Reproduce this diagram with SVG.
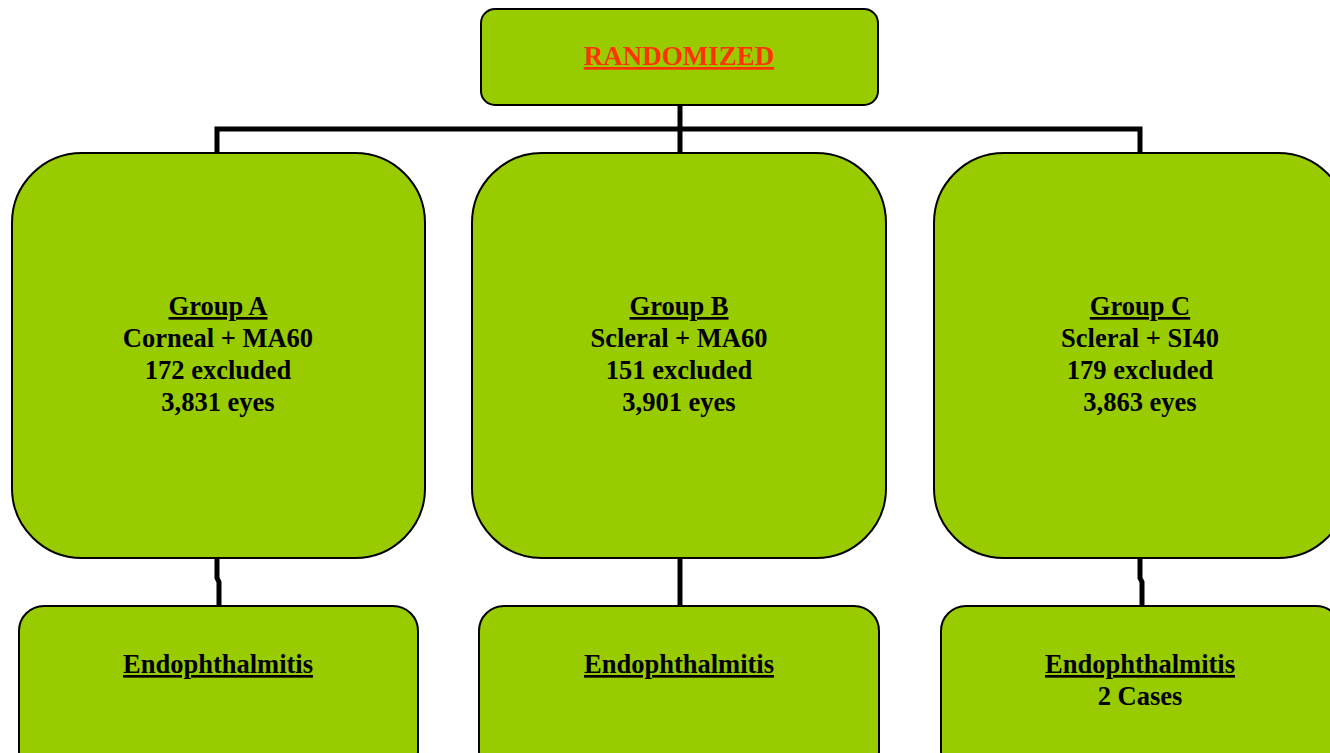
<svg xmlns="http://www.w3.org/2000/svg" width="1330" height="753" viewBox="0 0 1330 753">
<style>
.box{fill:#99CC00;stroke:#000;stroke-width:2}
.t{font-family:"Liberation Serif","Times New Roman",serif;font-weight:bold;font-size:26.5px;text-anchor:middle;fill:#000}
.u{text-decoration:underline}
.red{fill:#FF3300;font-size:27px}
.c{fill:none;stroke:#000;stroke-width:5}
</style>
<rect width="1330" height="753" fill="#fff"/>
<g id="connectors">
<path class="c" d="M680 105V129M217 153V129H1140V153M680 129V153"/>
<path class="c" d="M217 558V578L219 582V606"/>
<path class="c" d="M680 558V606"/>
<path class="c" d="M1140 558V578L1142 582V606"/>
</g>
<g id="randomized">
<rect class="box" x="481" y="9" width="397" height="96" rx="14"/>
<text class="t red u" x="679" y="65">RANDOMIZED</text>
</g>
<g id="groupA">
<rect class="box" x="12" y="153" width="413" height="405" rx="70"/>
<text class="t" x="218" y="315"><tspan class="u">Group A</tspan><tspan x="218" dy="32">Corneal + MA60</tspan><tspan x="218" dy="32">172 excluded</tspan><tspan x="218" dy="32">3,831 eyes</tspan></text>
</g>
<g id="groupB">
<rect class="box" x="472" y="153" width="414" height="405" rx="70"/>
<text class="t" x="679" y="315"><tspan class="u">Group B</tspan><tspan x="679" dy="32">Scleral + MA60</tspan><tspan x="679" dy="32">151 excluded</tspan><tspan x="679" dy="32">3,901 eyes</tspan></text>
</g>
<g id="groupC">
<rect class="box" x="934" y="153" width="414" height="405" rx="70"/>
<text class="t" x="1140" y="315"><tspan class="u">Group C</tspan><tspan x="1140" dy="32">Scleral + SI40</tspan><tspan x="1140" dy="32">179 excluded</tspan><tspan x="1140" dy="32">3,863 eyes</tspan></text>
</g>
<g id="endoA">
<rect class="box" x="19" y="606" width="399" height="170" rx="25"/>
<text class="t u" x="218" y="673">Endophthalmitis</text>
</g>
<g id="endoB">
<rect class="box" x="479" y="606" width="400" height="170" rx="25"/>
<text class="t u" x="679" y="673">Endophthalmitis</text>
</g>
<g id="endoC">
<rect class="box" x="941" y="606" width="400" height="170" rx="25"/>
<text class="t" x="1140" y="673"><tspan class="u">Endophthalmitis</tspan><tspan x="1140" dy="32">2 Cases</tspan></text>
</g>
</svg>
